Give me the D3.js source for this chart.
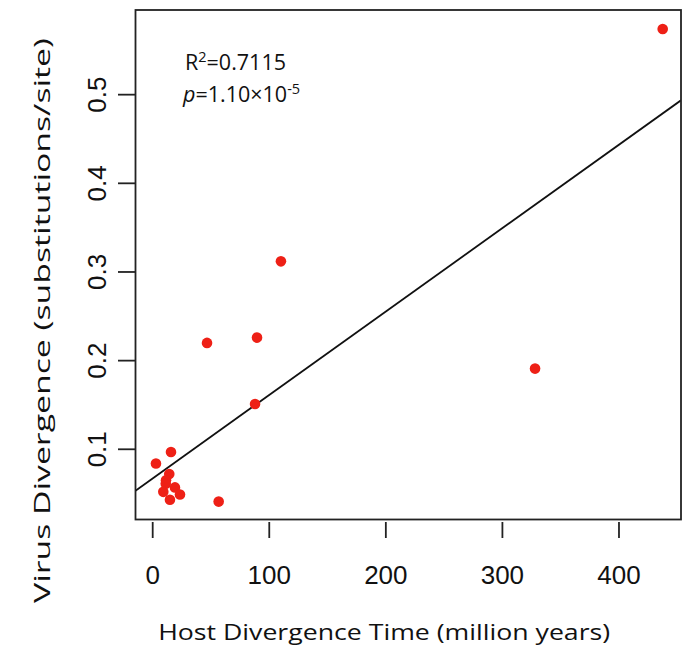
<!DOCTYPE html>
<html><head><meta charset="utf-8">
<script src="https://cdn.jsdelivr.net/npm/d3@7"></script>
<style>body{margin:0;background:#fff}svg{display:block}</style>
</head><body>
<script>
// Data
const hostTime = [437.5, 328, 110, 89.5, 46.6, 87.8, 15.7, 2.8, 14.2, 11.4, 11.2, 19.1, 9.1, 23.4, 14.8, 56.6];
const virusDiv = [0.574, 0.191, 0.312, 0.226, 0.220, 0.151, 0.097, 0.084, 0.072, 0.065, 0.061, 0.057, 0.052, 0.049, 0.043, 0.041];
const xTicks = [0, 100, 200, 300, 400];
const yTicks = [0.1, 0.2, 0.3, 0.4, 0.5];
const fitIntercept = 0.0672, fitSlope = 0.000941;
const xLabel = "Host Divergence Time (million years)";
const yLabel = "Virus Divergence (substitutions/site)";

const W = 693, H = 657;
const L = 135.5, R = 681, T = 10, B = 519.5;
const x = d3.scaleLinear().domain([-14.75, 453.2]).range([L, R]);
const y = d3.scaleLinear().domain([0.0208, 0.5955]).range([B, T]);

const svg = d3.select("body").append("svg").attr("width", W).attr("height", H);

// regression line clipped to box
svg.append("clipPath").attr("id","clip").append("rect").attr("x",L).attr("y",T).attr("width",R-L).attr("height",B-T);
const xd = x.domain();
svg.append("line").attr("clip-path","url(#clip)")
  .attr("x1", x(xd[0])).attr("y1", y(fitIntercept + fitSlope*xd[0]))
  .attr("x2", x(xd[1])).attr("y2", y(fitIntercept + fitSlope*xd[1]))
  .attr("stroke","#111").attr("stroke-width",1.8);

// points
const pts = hostTime.map((h,i)=>({h, v: virusDiv[i]}));
svg.selectAll("circle.pt").data(pts).join("circle").attr("class","pt")
  .attr("cx", d=>x(d.h)).attr("cy", d=>y(d.v)).attr("r", 5.3)
  .attr("fill","#ee2016");

// box
svg.append("rect").attr("x",L).attr("y",T).attr("width",R-L).attr("height",B-T)
  .attr("fill","none").attr("stroke","#222").attr("stroke-width",1.8);

// x axis ticks
const gx = svg.append("g");
gx.selectAll("line").data(xTicks).join("line")
  .attr("x1", d=>x(d)).attr("x2", d=>x(d)).attr("y1", 522).attr("y2", 538)
  .attr("stroke","#222").attr("stroke-width",1.8);
gx.selectAll("text").data(xTicks).join("text")
  .attr("x", d=>x(d)).attr("y", 584).attr("text-anchor","middle")
  .attr("font-family","Liberation Sans, Arial, sans-serif").attr("font-size",26)
  .attr("fill","#111").text(d=>d);

// y axis ticks
const gy = svg.append("g");
gy.selectAll("line").data(yTicks).join("line")
  .attr("x1", 118).attr("x2", L).attr("y1", d=>y(d)).attr("y2", d=>y(d))
  .attr("stroke","#222").attr("stroke-width",1.8);
gy.selectAll("text").data(yTicks).join("text")
  .attr("transform", d=>`translate(106,${y(d)}) rotate(-90)`)
  .attr("text-anchor","middle")
  .attr("font-family","Liberation Sans, Arial, sans-serif").attr("font-size",26)
  .attr("fill","#111").text(d=>d.toFixed(1));

// axis titles
svg.append("text").attr("x", (158.3+610)/2).attr("y", 639.5).attr("text-anchor","middle")
  .attr("font-family","Open Sans, sans-serif").attr("font-size",22.5).attr("fill","#111")
  .attr("textLength", 452).attr("lengthAdjust","spacingAndGlyphs").text(xLabel);
svg.append("text").attr("transform","translate(50,320.5) rotate(-90)").attr("text-anchor","middle")
  .attr("font-family","Open Sans, sans-serif").attr("font-size",22.5).attr("fill","#111")
  .attr("textLength", 565).attr("lengthAdjust","spacingAndGlyphs").text(yLabel);

// annotation
const ann = svg.append("g").attr("font-family","Open Sans, sans-serif").attr("font-size",21.5).attr("fill","#111");
const t1 = ann.append("text").attr("x",185).attr("y",69.5);
t1.append("tspan").text("R");
t1.append("tspan").attr("dy",-8).attr("font-size",14.5).text("2");
t1.append("tspan").attr("dy",8).text("=0.7115");
const t2 = ann.append("text").attr("x",183).attr("y",101.5);
t2.append("tspan").attr("font-style","italic").text("p");
t2.append("tspan").text("=1.10×10");
t2.append("tspan").attr("dy",-8).attr("font-size",14.5).text("-5");
</script>
</body></html>
